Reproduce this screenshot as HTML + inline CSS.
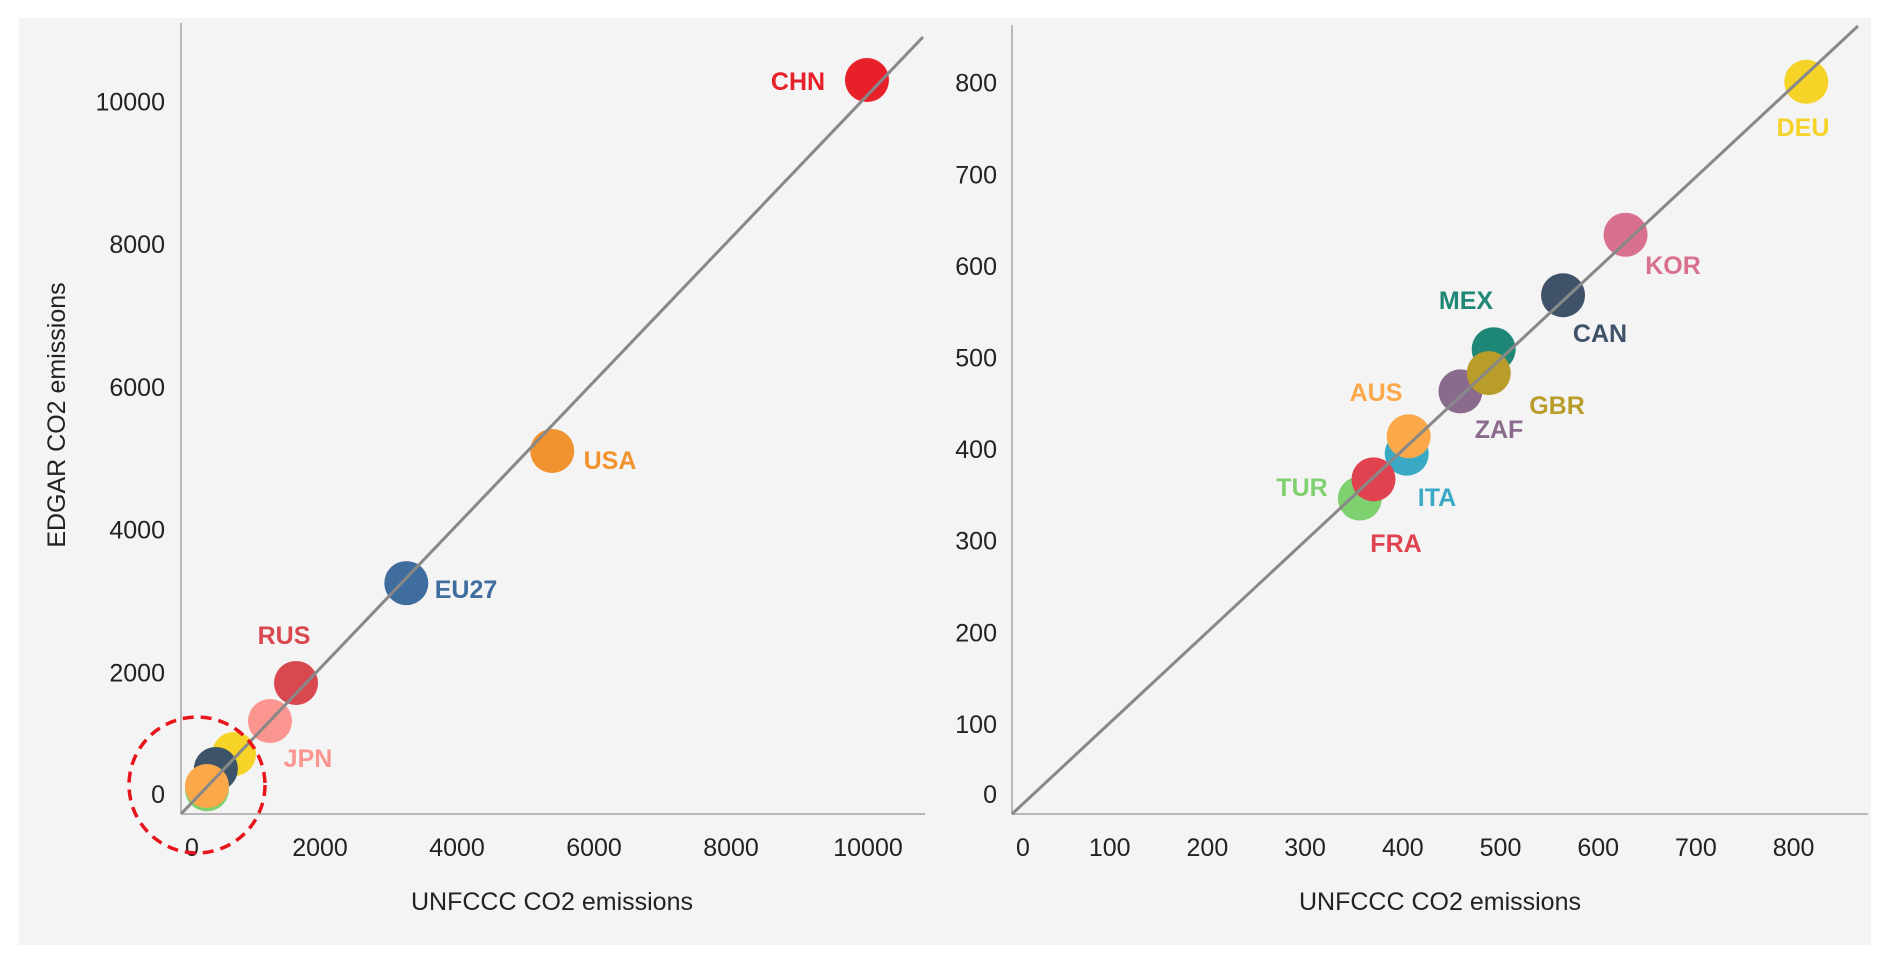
<!DOCTYPE html>
<html><head><meta charset="utf-8"><style>
html,body{margin:0;padding:0;background:#fff;}
svg{display:block;font-family:"Liberation Sans",sans-serif;}
</style></head><body>
<svg id="chart" width="1892" height="965" viewBox="0 0 1892 965" xmlns="http://www.w3.org/2000/svg">
<rect x="19" y="18" width="1852" height="927" fill="#f4f4f4"/>
<g id="left"></g>
<g id="right"></g>
</svg>
<script>
// Left panel data
const leftCountries = ["TUR_small","DEU","CAN","AUS","JPN","RUS","EU27","USA","CHN"];
const leftNames = ["", "", "", "", "JPN", "RUS", "EU27", "USA", "CHN"];
const leftX = [350, 745, 480, 350, 1270, 1650, 3260, 5390, 9985];
const leftY = [360, 855, 645, 406, 1317, 1850, 3250, 5102, 10301];
const leftColors = ["#7fd06e","#f5d327","#3d5369","#fba84a","#fb958f","#d9474f","#3f6d9e","#f0922e","#e8202a"];
const leftTicks = [0, 2000, 4000, 6000, 8000, 10000];
// Right panel data
const rightCountries = ["DEU","KOR","CAN","MEX","ZAF","GBR","ITA","AUS","TUR","FRA"];
const rightX = [813, 628, 564, 493, 459, 488, 404, 406, 356, 370];
const rightY = [801, 634, 568, 509, 463, 483, 395, 414, 346, 367];
const rightColors = ["#f5d327","#d8708e","#3f5269","#1e8775","#8a6a8d","#b89d2a","#3aa9c4","#fba84a","#7fd06e","#e0424f"];
const rightTicks = [0, 100, 200, 300, 400, 500, 600, 700, 800];

const NS = "http://www.w3.org/2000/svg";
function mk(parent, tag, attrs, text){
  const e = document.createElementNS(NS, tag);
  for (const k in attrs) e.setAttribute(k, attrs[k]);
  if (text !== undefined) e.textContent = text;
  parent.appendChild(e);
  return e;
}

// Left axes
const Lx0 = 183, Lxs = 0.0685, Ly0 = 815, Lys = 0.07135;
const lx = v => Lx0 + v * Lxs;
const ly = v => Ly0 - v * Lys;
const L = document.getElementById('left');
let e;
e = mk(L, 'line', {x1:181, y1:23, x2:181, y2:814, stroke:'#b8b8b8', 'stroke-width':2});


e = mk(L, 'line', {x1:181, y1:814, x2:925, y2:814, stroke:'#b8b8b8', 'stroke-width':2});


leftTicks.forEach((t, i) => {
  e = mk(L, 'text', {x: i === 0 ? 192 : lx(t), y: 856, 'font-size':25, 'text-anchor':'middle', fill:'#222'}, String(t));
  
  
  e = mk(L, 'text', {x: 165, y: (i === 0 ? 794 : ly(t)) + 9, 'font-size':25, 'text-anchor':'end', fill:'#222'}, String(t));
  
  
});
e = mk(L, 'text', {x:552, y:910, 'font-size':25, 'text-anchor':'middle', fill:'#222'}, 'UNFCCC CO2 emissions');


e = mk(L, 'text', {x:0, y:0, 'font-size':25, 'text-anchor':'middle', fill:'#222', transform:'translate(65,415) rotate(-90)'}, 'EDGAR CO2 emissions');


leftX.forEach((v, i) => {
  e = mk(L, 'circle', {cx: lx(v), cy: ly(leftY[i]), r: 22, fill: leftColors[i]});
  
  
});
e = mk(L, 'line', {x1:181, y1:814, x2:923, y2:37, stroke:'#888', 'stroke-width':3});


const leftLabelPos = {JPN:[308,767], RUS:[284,644], EU27:[466,598], USA:[610,469], CHN:[798,90]};
leftNames.forEach((n, i) => {
  if (!n) return;
  const p = leftLabelPos[n];
  e = mk(L, 'text', {x:p[0], y:p[1], 'font-size':25, 'font-weight':'bold', 'text-anchor':'middle', fill: leftColors[i]}, n);
  
  
});
e = mk(L, 'circle', {cx:197, cy:785, r:68, fill:'none', stroke:'#e8141c', 'stroke-width':3.5, 'stroke-dasharray':'11 7'});



// Right axes
const Rx0 = 1012, Rxs = 0.977, Ry0 = 815.5, Rys = 0.916;
const rx = v => Rx0 + v * Rxs;
const ry = v => Ry0 - v * Rys;
const R = document.getElementById('right');
e = mk(R, 'line', {x1:1012, y1:25, x2:1012, y2:814, stroke:'#b8b8b8', 'stroke-width':2});


e = mk(R, 'line', {x1:1012, y1:814, x2:1868, y2:814, stroke:'#b8b8b8', 'stroke-width':2});


rightTicks.forEach((t, i) => {
  e = mk(R, 'text', {x: i === 0 ? 1023 : rx(t), y: 856, 'font-size':25, 'text-anchor':'middle', fill:'#222'}, String(t));
  
  
  e = mk(R, 'text', {x: 997, y: (i === 0 ? 794 : ry(t)) + 9, 'font-size':25, 'text-anchor':'end', fill:'#222'}, String(t));
  
  
});
e = mk(R, 'text', {x:1440, y:910, 'font-size':25, 'text-anchor':'middle', fill:'#222'}, 'UNFCCC CO2 emissions');


rightX.forEach((v, i) => {
  e = mk(R, 'circle', {cx: rx(v), cy: ry(rightY[i]), r: 22, fill: rightColors[i]});
  
  
});
e = mk(R, 'line', {x1:1012, y1:814, x2:1858, y2:26, stroke:'#888', 'stroke-width':3});


const rightLabelPos = {DEU:[1803,136], KOR:[1673,274], CAN:[1600,342], MEX:[1466,309], GBR:[1557,414], ZAF:[1499,438], AUS:[1376,401], ITA:[1437,506], TUR:[1302,496], FRA:[1396,552]};
rightCountries.forEach((n, i) => {
  const p = rightLabelPos[n];
  e = mk(R, 'text', {x:p[0], y:p[1], 'font-size':25, 'font-weight':'bold', 'text-anchor':'middle', fill: rightColors[i]}, n);
  
  
});
</script>
</body></html>
